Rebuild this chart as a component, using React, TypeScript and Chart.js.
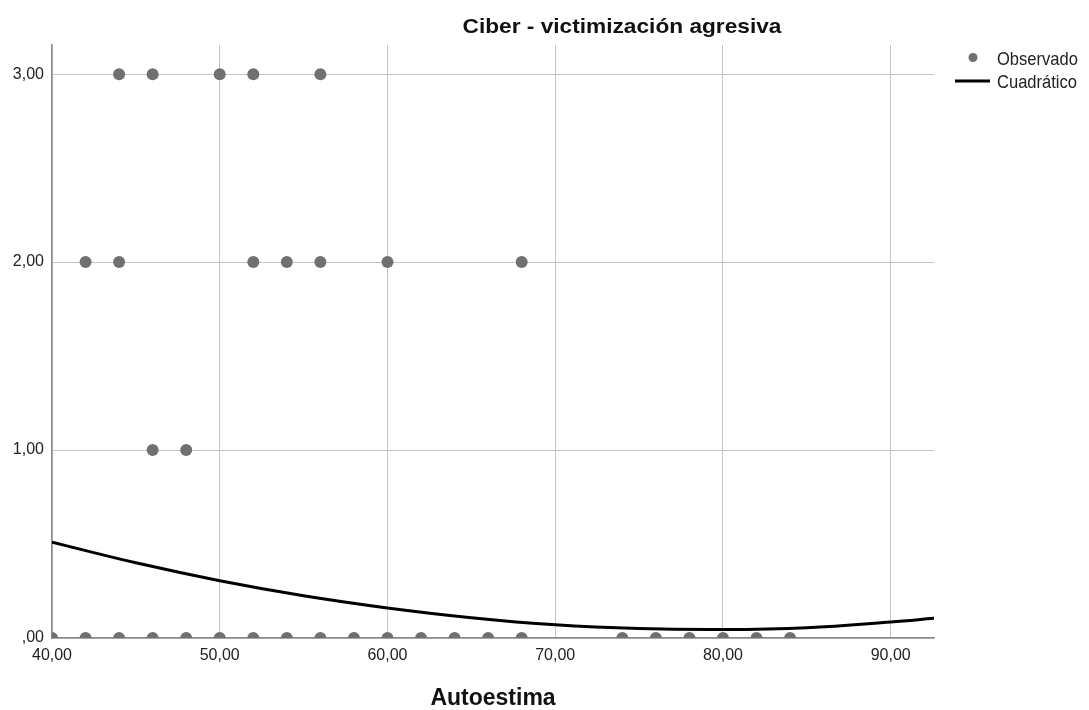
import React, { useEffect, useRef } from "react";
import { Chart, registerables } from "chart.js";

Chart.register(...registerables);

const chartTitle = "Ciber - victimización agresiva";
const xAxisTitle = "Autoestima";
const legendLabels = ["Observado", "Cuadrático"];

// Observed points (Autoestima, Ciber - victimización agresiva)
const observedX = [
  40, 42, 44, 46, 48, 50, 52, 54, 56, 58, 60, 62, 64, 66, 68, 74, 76, 78, 80, 82, 84,
  46, 48,
  42, 44, 52, 54, 56, 60, 68,
  44, 46, 50, 52, 56,
];
const observedY = [
  0, 0, 0, 0, 0, 0, 0, 0, 0, 0, 0, 0, 0, 0, 0, 0, 0, 0, 0, 0, 0,
  1, 1,
  2, 2, 2, 2, 2, 2, 2,
  3, 3, 3, 3, 3,
];

// Quadratic fit curve
const curveX = [40, 45, 50, 55, 60, 65, 70, 75, 80, 85, 90, 92.6];
const curveY = [0.51, 0.4, 0.305, 0.225, 0.16, 0.108, 0.07, 0.05, 0.045, 0.055, 0.085, 0.105];

const xTicks = [40, 50, 60, 70, 80, 90];
const yTicks = [0, 1, 2, 3];

const fmt = (v: number) => {
  const s = v.toFixed(2).replace(".", ",");
  return s.startsWith("0,") ? s.slice(1) : s;
};

export default function App() {
  const ref = useRef<HTMLCanvasElement | null>(null);

  useEffect(() => {
    document.body.style.margin = "0";
    const canvas = ref.current!;
    const font = "'Liberation Sans', Arial, sans-serif";

    const drawScaled = (
      ctx: CanvasRenderingContext2D,
      text: string,
      x: number,
      y: number,
      sx: number
    ) => {
      ctx.save();
      ctx.translate(x, y);
      ctx.scale(sx, 1);
      ctx.fillText(text, 0, 0);
      ctx.restore();
    };

    const overlay = {
      id: "overlay",
      afterDraw(chart: any) {
        const ctx = chart.ctx as CanvasRenderingContext2D;
        ctx.save();
        ctx.fillStyle = "#111";
        ctx.font = `bold 21px ${font}`;
        ctx.textAlign = "center";
        ctx.textBaseline = "alphabetic";
        drawScaled(ctx, chartTitle, 622, 33, 1.08);
        const ca = chart.chartArea;
        ctx.font = `bold 23px ${font}`;
        ctx.fillText(xAxisTitle, (ca.left + ca.right) / 2, 705);

        // legend
        ctx.textAlign = "left";
        ctx.textBaseline = "middle";
        ctx.fillStyle = "#707070";
        ctx.beginPath();
        ctx.arc(973, 57.5, 4.5, 0, Math.PI * 2);
        ctx.fill();
        ctx.strokeStyle = "#000";
        ctx.lineWidth = 3;
        ctx.beginPath();
        ctx.moveTo(955, 81);
        ctx.lineTo(990, 81);
        ctx.stroke();
        ctx.fillStyle = "#222";
        ctx.font = `19px ${font}`;
        drawScaled(ctx, legendLabels[0], 997, 60, 0.87);
        drawScaled(ctx, legendLabels[1], 997, 83, 0.87);
        ctx.restore();
      },
    };

    const chart = new Chart(canvas, {
      type: "scatter",
      data: {
        datasets: [
          {
            label: legendLabels[1],
            type: "line",
            data: curveX.map((x, i) => ({ x, y: curveY[i] })),
            borderColor: "#000",
            borderWidth: 3,
            pointRadius: 0,
            tension: 0.4,
            fill: false,
            clip: 0,
            order: 1,
          } as any,
          {
            label: legendLabels[0],
            data: observedX.map((x, i) => ({ x, y: observedY[i] })),
            backgroundColor: "#707070",
            borderColor: "#707070",
            borderWidth: 0,
            pointRadius: 6,
            clip: 0,
            order: 2,
          } as any,
        ],
      },
      options: {
        responsive: false,
        animation: false,
        devicePixelRatio: 1,
        layout: { padding: { left: 0, top: 45, right: 155, bottom: 0 } },
        plugins: {
          legend: { display: false },
          tooltip: { enabled: false },
          title: { display: false },
        },
        scales: {
          x: {
            type: "linear",
            min: 40,
            max: 92.58,
            afterBuildTicks: (s: any) => {
              s.ticks = xTicks.map((v) => ({ value: v }));
            },
            afterFit: (s: any) => {
              s.height = 72;
            },
            grid: { color: "#c4c4c4", lineWidth: 1, drawTicks: false },
            border: { color: "#8a8a8a", width: 1.5 },
            ticks: {
              padding: 8,
              color: "#222",
              font: { family: font, size: 16 },
              callback: (v: any) => fmt(Number(v)),
              maxRotation: 0,
            },
          },
          y: {
            type: "linear",
            min: 0,
            max: 3.155,
            afterBuildTicks: (s: any) => {
              s.ticks = yTicks.map((v) => ({ value: v }));
            },
            afterFit: (s: any) => {
              s.width = 52;
            },
            grid: { color: "#c4c4c4", lineWidth: 1, drawTicks: false },
            border: { color: "#8a8a8a", width: 1.5 },
            ticks: {
              padding: 8,
              color: "#222",
              font: { family: font, size: 16 },
              callback: (v: any) => fmt(Number(v)),
            },
          },
        },
      },
      plugins: [overlay],
    });
    return () => chart.destroy();
  }, []);

  return (
    <div style={{ width: 1089, height: 710 }}>
      <canvas ref={ref} width={1089} height={710} />
    </div>
  );
}
